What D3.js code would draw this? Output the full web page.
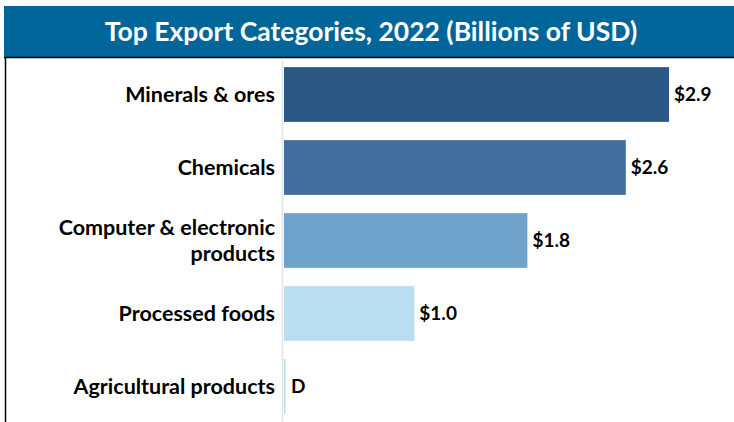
<!DOCTYPE html>
<html>
  <head>
    <meta charset="UTF-8" />
    <script src="https://d3js.org/d3.v7.min.js"></script>
    <title>Top Export Categories, 2022</title>
    <style>
      body { margin: 0; background: #fff; }
    </style>
  </head>
  <body>
    <div id="chart"></div>
    <script>
      // data
      var categories = ["Minerals & ores", "Chemicals", "Computer & electronic products", "Processed foods", "Agricultural products"];
      var labelLines = [["Minerals & ores"], ["Chemicals"], ["Computer & electronic", "products"], ["Processed foods"], ["Agricultural products"]];
      var values = [2.895, 2.57, 1.83, 0.98, 0.01];
      var valueLabels = ["$2.9", "$2.6", "$1.8", "$1.0", "D"];
      var barColors = ["#2c5885", "#416e9d", "#70a3cb", "#bbdff2", "#b7ddf3"];

      var W = 734, H = 422;
      var font = "Lato, sans-serif";

      var svg = d3.select("#chart")
        .append("svg")
        .attr("width", W)
        .attr("height", H);

      // title bar
      svg.append("rect")
        .attr("x", 4).attr("y", 6)
        .attr("width", W - 4).attr("height", 51)
        .attr("fill", "#006699");

      svg.append("text")
        .attr("x", 371).attr("y", 41)
        .attr("text-anchor", "middle")
        .style("font-family", font)
        .style("font-weight", 700)
        .style("font-size", "26.5px")
        .attr("fill", "#fff")
        .text("Top Export Categories, 2022 (Billions of USD)");

      // frame lines
      svg.append("line")
        .attr("x1", 4).attr("x2", W).attr("y1", 57.5).attr("y2", 57.5)
        .attr("stroke", "#000").attr("stroke-width", 1.5);
      svg.append("line")
        .attr("x1", 5.5).attr("x2", 5.5).attr("y1", 57).attr("y2", H)
        .attr("stroke", "#000").attr("stroke-width", 1.5);

      // scales
      var x = d3.scaleLinear()
        .domain([0, 3])
        .range([284, 683]);

      var y = d3.scaleBand()
        .domain(categories)
        .range([58, 423])
        .paddingInner(0.25)
        .paddingOuter(0.125);

      // category axis line
      svg.append("line")
        .attr("x1", 282.5).attr("x2", 282.5).attr("y1", 60).attr("y2", H)
        .attr("stroke", "#e3e3e3").attr("stroke-width", 1.5);

      // bars
      svg.selectAll(".bar")
        .data(values)
        .enter()
        .append("rect")
        .attr("class", "bar")
        .attr("x", x(0))
        .attr("y", function(d, i) { return y(categories[i]); })
        .attr("width", function(d) { return Math.max(1.5, x(d) - x(0)); })
        .attr("height", y.bandwidth())
        .attr("fill", function(d, i) { return barColors[i]; });

      // value labels
      svg.selectAll(".val")
        .data(values)
        .enter()
        .append("text")
        .attr("class", "val")
        .attr("x", function(d) { return Math.max(x(d), x(0) + 2) + 5; })
        .attr("y", function(d, i) { return y(categories[i]) + y.bandwidth() / 2; })
        .attr("dy", "0.36em")
        .style("font-family", font)
        .style("font-weight", 700)
        .style("font-size", "19px")
        .attr("fill", "#000")
        .text(function(d, i) { return valueLabels[i]; });

      // category labels
      var lab = svg.selectAll(".cat")
        .data(labelLines)
        .enter()
        .append("text")
        .attr("class", "cat")
        .attr("text-anchor", "end")
        .style("font-family", font)
        .style("font-weight", 700)
        .style("font-size", "21.5px")
        .attr("fill", "#000")
        .attr("transform", function(d, i) {
          return "translate(275," + (y(categories[i]) + y.bandwidth() / 2) + ")";
        });

      lab.selectAll("tspan")
        .data(function(d) { return d; })
        .enter()
        .append("tspan")
        .attr("x", 0)
        .attr("y", function(d, j, nodes) { return (j - (nodes.length - 1) / 2) * 26; })
        .attr("dy", "0.36em")
        .text(function(d) { return d; });
    </script>
  </body>
</html>
